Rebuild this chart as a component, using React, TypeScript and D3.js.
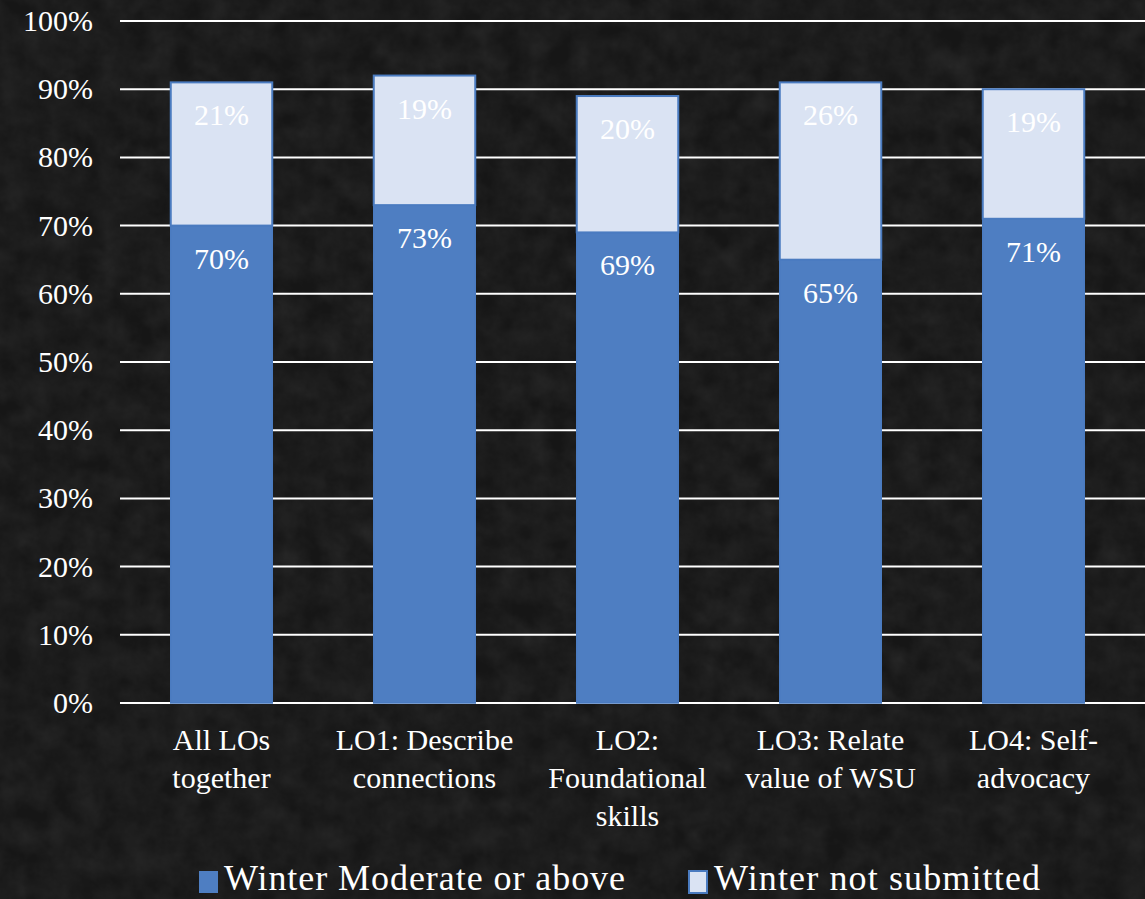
import React from "react";
import * as d3 from "d3";

const categories = [
  ["All LOs", "together"],
  ["LO1: Describe", "connections"],
  ["LO2:", "Foundational", "skills"],
  ["LO3: Relate", "value of WSU"],
  ["LO4: Self-", "advocacy"],
];
const moderate = [70, 73, 69, 65, 71];
const notSubmitted = [21, 19, 20, 26, 19];
const yTicks = [0, 10, 20, 30, 40, 50, 60, 70, 80, 90, 100];
const seriesNames = ["Winter Moderate or above", "Winter not submitted"];

const W = 1145;
const H = 899;
const FONT = "'Liberation Serif', 'DejaVu Serif', serif";
const DARK = "#4E7EC2";
const LIGHT = "#DAE3F3";
const STROKE = "#4A7BC0";

export default function App() {
  const x = d3.scaleBand<number>().domain(d3.range(categories.length)).range([120, 1135]).paddingInner(0.5).paddingOuter(0.25);
  const y = d3.scaleLinear().domain([0, 100]).range([703, 21]);
  const bw = x.bandwidth();

  return (
    <svg width={W} height={H} style={{ position: "absolute", left: 0, top: 0 }} fontFamily={FONT}>
      <defs>
        <filter id="tex" x="0" y="0" width="100%" height="100%">
          <feTurbulence type="fractalNoise" baseFrequency="0.04" numOctaves={4} seed={3} result="n" />
          <feColorMatrix type="matrix" values="0 0 0 0 1  0 0 0 0 1  0 0 0 0 1  0.05 0.05 0.05 0 -0.05" />
        </filter>
      </defs>
      <rect width={W} height={H} fill="#161616" />
      <rect width={W} height={H} filter="url(#tex)" />
      {yTicks.map((t) => (
        <g key={t}>
          <line x1={120} x2={W} y1={y(t)} y2={y(t)} stroke="#ffffff" strokeWidth={2} />
          <text x={93} y={y(t) + 10} textAnchor="end" fill="#ffffff" fontSize={30}>
            {t}%
          </text>
        </g>
      ))}
      {categories.map((c, i) => {
        const x0 = x(i)!;
        const m = moderate[i];
        const n = notSubmitted[i];
        return (
          <g key={i}>
            <rect x={x0} y={y(m)} width={bw} height={y(0) - y(m)} fill={DARK} stroke={STROKE} strokeWidth={1.5} />
            <rect x={x0} y={y(m + n)} width={bw} height={y(m) - y(m + n)} fill={LIGHT} stroke={STROKE} strokeWidth={2} />
            <text x={x0 + bw / 2} y={y(m) + 43} textAnchor="middle" fill="#ffffff" fontSize={30}>
              {m}%
            </text>
            <text x={x0 + bw / 2} y={y(m + n) + 43} textAnchor="middle" fill="#ffffff" fontSize={30}>
              {n}%
            </text>
            {c.map((line, k) => (
              <text key={k} x={x0 + bw / 2} y={750 + k * 38} textAnchor="middle" fill="#ffffff" fontSize={30}>
                {line}
              </text>
            ))}
          </g>
        );
      })}
      <g>
        <rect x={199} y={871} width={19} height={22} fill={DARK} />
        <text x={224} y={890} fill="#ffffff" fontSize={36} textLength={401} lengthAdjust="spacing">{seriesNames[0]}</text>
        <rect x={689} y={871} width={18} height={22} fill={LIGHT} stroke={STROKE} strokeWidth={2} />
        <text x={714} y={890} fill="#ffffff" fontSize={36} textLength={326} lengthAdjust="spacing">{seriesNames[1]}</text>
      </g>
    </svg>
  );
}
